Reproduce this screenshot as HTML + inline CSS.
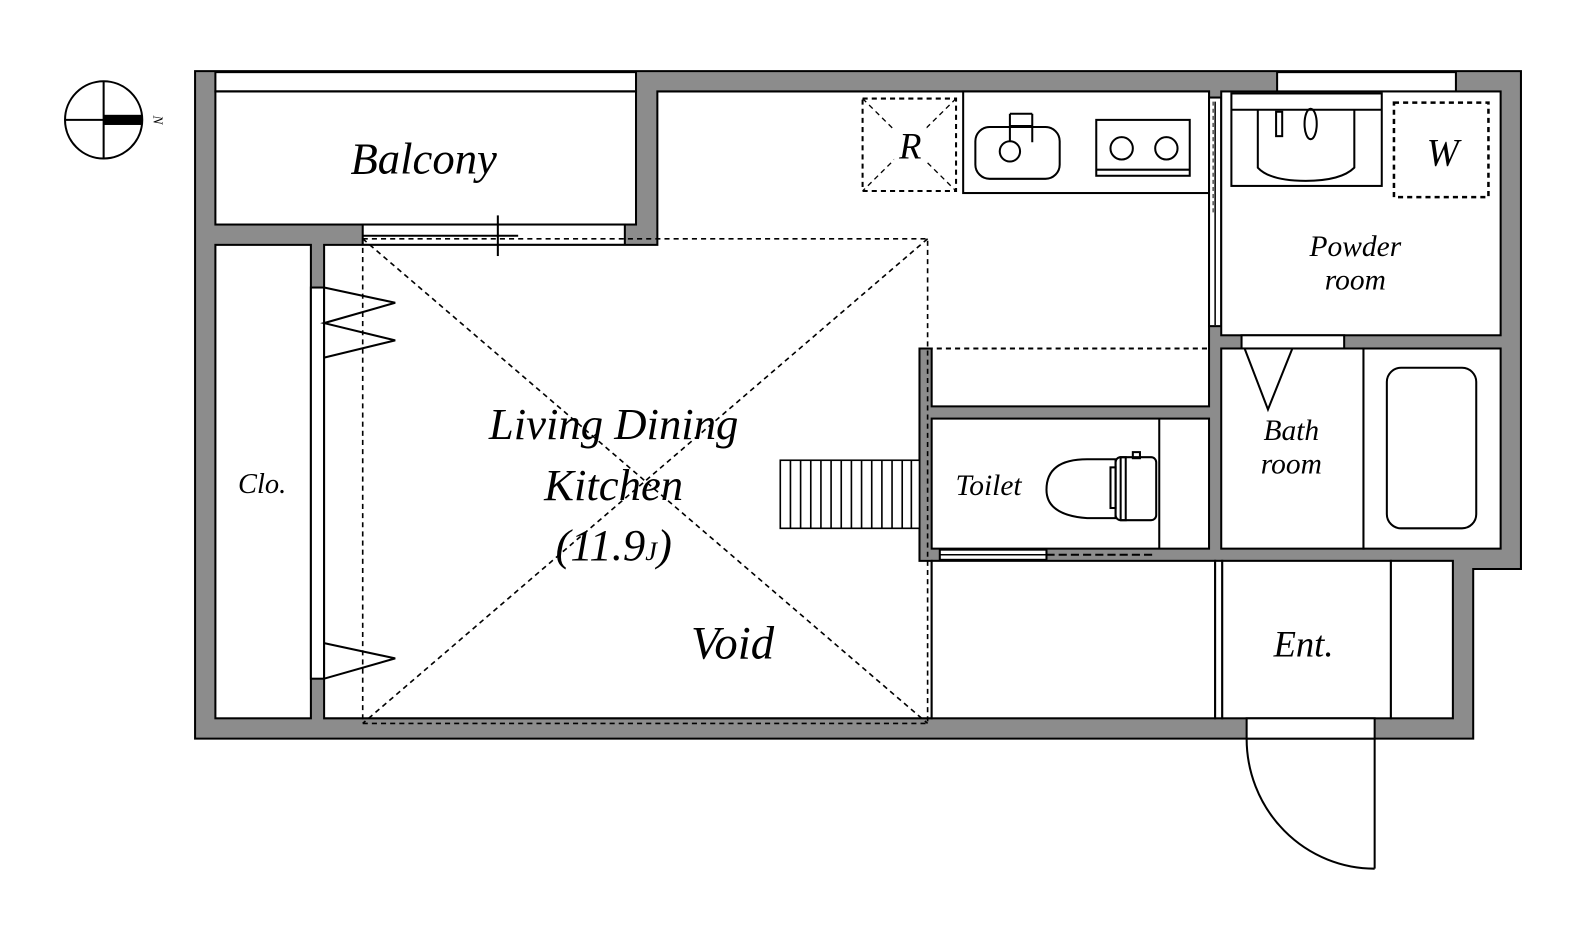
<!DOCTYPE html>
<html><head><meta charset="utf-8"><style>
html,body{margin:0;padding:0;background:#fff;}
svg{display:block;}
text{font-family:"Liberation Serif",serif;font-style:italic;fill:#000;}
</style></head><body>
<svg width="1593" height="941" viewBox="0 0 1593 941" xmlns="http://www.w3.org/2000/svg">
<g transform="scale(1.016)">
<!-- compass -->
<g stroke="#000" stroke-width="2" fill="none">
<circle cx="102" cy="118" r="38"/>
<line x1="102" y1="80" x2="102" y2="156"/>
<line x1="64" y1="118" x2="102" y2="118"/>
</g>
<rect x="102" y="113" width="38" height="10" fill="#000"/>
<text x="155" y="118" font-size="13" font-style="normal" transform="rotate(90 155 118)" text-anchor="middle" dy="4">N</text>

<!-- walls footprint -->
<path d="M192,70 H1497 V560 H1450 V727 H192 Z" fill="#8c8c8c" stroke="#000" stroke-width="2"/>

<g fill="#fff" stroke="#000" stroke-width="2">
<rect x="212" y="71" width="414" height="19"/>
<rect x="212" y="90" width="414" height="131"/>
<rect x="357" y="221" width="258" height="20"/>
<rect x="212" y="241" width="94" height="466"/>
<rect x="306" y="283" width="13" height="385"/>
<path d="M319,241 H647 V90 H1190 V400 H917 V343 H905 V552 H917 V707 H319 Z"/>
<rect x="948" y="90" width="242" height="100"/>
<rect x="1190" y="96" width="12" height="225"/>
<rect x="1257" y="71" width="176" height="19"/>
<rect x="1202" y="90" width="275" height="240"/>
<rect x="1222" y="330" width="101" height="13"/>
<rect x="1202" y="343" width="140" height="197"/>
<rect x="1342" y="343" width="135" height="197"/>
<rect x="917" y="412" width="273" height="128"/>
<rect x="917" y="552" width="279" height="155"/>
<rect x="1196" y="552" width="7" height="155"/>
<rect x="1203" y="552" width="166" height="155"/>
<rect x="1369" y="552" width="61" height="155"/>
<rect x="1227" y="707" width="126" height="20"/>
<rect x="925" y="541" width="105" height="10"/>
</g>
<line x1="212" y1="90" x2="626" y2="90" stroke="#000" stroke-width="2"/>
<line x1="1196" y1="100" x2="1196" y2="320" stroke="#000" stroke-width="1.5"/>
<line x1="1194" y1="100" x2="1194" y2="210" stroke="#000" stroke-width="1" stroke-dasharray="4,3"/>
<line x1="1141" y1="412" x2="1141" y2="540" stroke="#000" stroke-width="2"/>
<line x1="925" y1="546" x2="1030" y2="546" stroke="#000" stroke-width="1.5"/>
<line x1="1030" y1="546" x2="1135" y2="546" stroke="#000" stroke-width="2" stroke-dasharray="8,4"/>

<g stroke="#000" stroke-width="2">
<line x1="357" y1="232" x2="510" y2="232"/>
<line x1="490" y1="212" x2="490" y2="252"/>
</g>

<g fill="none" stroke="#000" stroke-width="2">
<polyline points="319,283 389,298 319,318 389,335 319,352"/>
<polyline points="319,633 389,648 319,668"/>
</g>

<g fill="none" stroke="#000" stroke-width="1.6" stroke-dasharray="5,4">
<rect x="357" y="235" width="556" height="477"/>
<line x1="357" y1="235" x2="913" y2="712"/>
<line x1="913" y1="235" x2="357" y2="712"/>
<line x1="913" y1="343" x2="1190" y2="343" stroke-width="2"/>
</g>

<g stroke="#000" stroke-width="1.6" fill="#fff">
<rect x="768" y="453" width="137" height="67"/>
<line x1="778" y1="453" x2="778" y2="520"/><line x1="788" y1="453" x2="788" y2="520"/>
<line x1="798" y1="453" x2="798" y2="520"/><line x1="808" y1="453" x2="808" y2="520"/>
<line x1="818" y1="453" x2="818" y2="520"/><line x1="828" y1="453" x2="828" y2="520"/>
<line x1="838" y1="453" x2="838" y2="520"/><line x1="848" y1="453" x2="848" y2="520"/>
<line x1="858" y1="453" x2="858" y2="520"/><line x1="868" y1="453" x2="868" y2="520"/>
<line x1="878" y1="453" x2="878" y2="520"/><line x1="888" y1="453" x2="888" y2="520"/>
<line x1="897" y1="453" x2="897" y2="520"/>
</g>

<g fill="none" stroke="#000" stroke-width="2" stroke-dasharray="5,4">
<rect x="849" y="97" width="92" height="91"/>
<line x1="849" y1="97" x2="941" y2="188" stroke-width="1.3"/>
<line x1="941" y1="97" x2="849" y2="188" stroke-width="1.3"/>
<rect x="1372" y="101" width="93" height="93" stroke-width="2.5"/>
</g>
<rect x="880" y="120" width="32" height="40" fill="#fff"/>
<rect x="1395" y="125" width="45" height="45" fill="#fff"/>

<g fill="none" stroke="#000" stroke-width="2">
<rect x="960" y="125" width="83" height="51" rx="14"/>
<circle cx="994" cy="149" r="10"/>
<line x1="994" y1="139" x2="994" y2="112"/>
<line x1="994" y1="112" x2="1016" y2="112"/>
<line x1="1016" y1="112" x2="1016" y2="140"/>
<line x1="994" y1="124" x2="1016" y2="124"/>
<rect x="1079" y="118" width="92" height="55"/>
<line x1="1079" y1="167" x2="1171" y2="167"/>
<circle cx="1104" cy="146" r="11"/>
<circle cx="1148" cy="146" r="11"/>
<rect x="1212" y="92" width="148" height="91"/>
<line x1="1212" y1="108" x2="1360" y2="108"/>
<path d="M1238,108 V165 Q1250,178 1285,178 Q1320,178 1333,165 V108"/>
<rect x="1256" y="110" width="6" height="24"/>
<ellipse cx="1290" cy="122" rx="6" ry="15"/>
<polyline points="1225,343 1248,403 1272,343"/>
<rect x="1365" y="362" width="88" height="158" rx="14"/>
<path d="M1098,452 H1070 Q1030,452 1030,482 Q1030,507 1070,510 H1098 Z"/>
<rect x="1098" y="450" width="40" height="62" rx="5"/>
<rect x="1093" y="460" width="5" height="40"/>
<rect x="1103" y="450" width="5" height="62"/>
<rect x="1115" y="445" width="7" height="6"/>
<line x1="1353" y1="727" x2="1353" y2="855"/>
<path d="M1227,727 A126,128 0 0 0 1353,855"/>
</g>

<text x="417" y="171" font-size="44" text-anchor="middle">Balcony</text>
<text x="604" y="432" font-size="44" text-anchor="middle">Living Dining</text>
<text x="604" y="492" font-size="44" text-anchor="middle">Kitchen</text>
<text x="604" y="551" font-size="44" text-anchor="middle">(11.9<tspan font-size="26">J</tspan>)</text>
<text x="721" y="648" font-size="46" text-anchor="middle">Void</text>
<text x="258" y="485" font-size="28" text-anchor="middle">Clo.</text>
<text x="896" y="156" font-size="36" text-anchor="middle">R</text>
<text x="1420" y="163" font-size="38" text-anchor="middle">W</text>
<text x="1334" y="252" font-size="29" text-anchor="middle">Powder</text>
<text x="1334" y="285" font-size="29" text-anchor="middle">room</text>
<text x="973" y="487" font-size="29" text-anchor="middle">Toilet</text>
<text x="1271" y="433" font-size="29" text-anchor="middle">Bath</text>
<text x="1271" y="466" font-size="29" text-anchor="middle">room</text>
<text x="1283" y="646" font-size="36" text-anchor="middle">Ent.</text>
</g>
</svg>
</body></html>
